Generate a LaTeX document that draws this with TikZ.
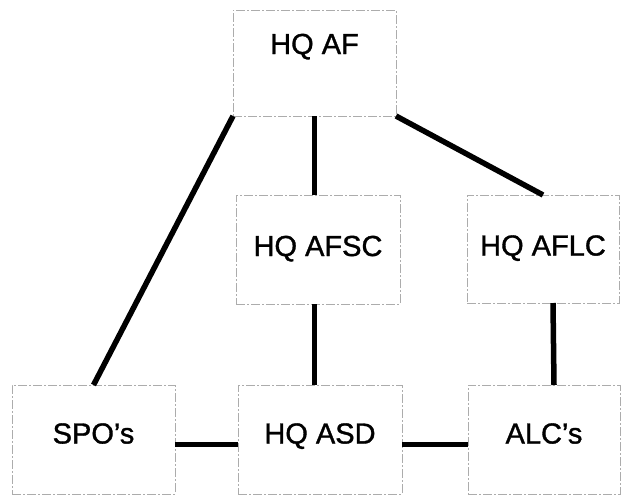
\documentclass[tikz,border=0pt]{standalone}
\usepackage{fontspec}
\setmainfont{Liberation Sans}
\newfontfamily\boxfont[FakeBold=1.2,Ligatures=TeX]{Liberation Sans}
\usetikzlibrary{positioning}

\begin{document}
\begin{tikzpicture}[x=1pt,y=-1pt,
  box/.style={draw=gray!65,line width=0.6pt,dash pattern=on 9pt off 2pt on 2pt off 2pt,
              inner sep=0pt,outer sep=0pt,align=center,
              text height=21pt,text depth=8pt,font=\boxfont\fontsize{29}{31}\selectfont},
  lower/.style={box,text depth=13pt},
  link/.style={black,line width=5.5pt}]
  \useasboundingbox (0,0) rectangle (624,496);
  \node[box,text depth=39pt,minimum width=163pt,minimum height=106pt](hqaf) at (314.5,63) {HQ AF};
  \node[box,minimum width=164pt,minimum height=109pt](hqafsc) at (318,249.5) {HQ AFSC};
  \node[box,minimum width=152pt,minimum height=108pt](hqaflc) at (543,249) {HQ AFLC};
  \node[lower,minimum width=163pt,minimum height=109pt](spos) at (93.5,439.5) {SPO’s};
  \node[lower,minimum width=164pt,minimum height=109pt](hqasd) at (320,439.5) {HQ ASD};
  \node[lower,minimum width=152pt,minimum height=109pt](alcs) at (544,439.5) {ALC’s};
  \draw[link](hqaf.south west)--(spos.north);
  \draw[link](hqaf.south east)--(hqaflc.north);
  \draw[link](hqaf.south)--(hqaf.south |- hqafsc.north);
  \draw[link](hqafsc.south -| hqaf.south)--(hqasd.north -| hqaf.south);
  \draw[link]([xshift=10pt]hqaflc.south)--([xshift=10pt]alcs.north);
  \draw[link]([yshift=-5pt]spos.east)--([yshift=-5pt]hqasd.west);
  \draw[link]([yshift=-5pt]hqasd.east)--([yshift=-5pt]alcs.west);
\end{tikzpicture}
\end{document}
